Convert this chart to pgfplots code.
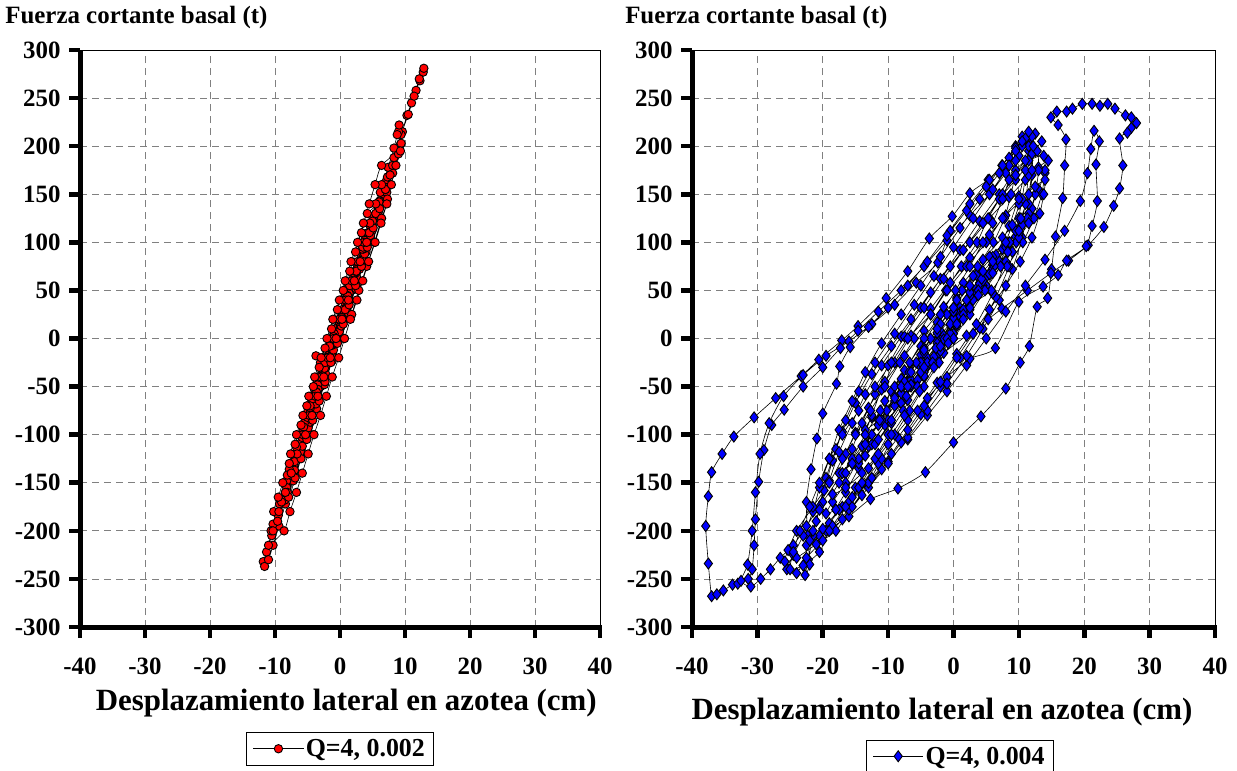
\documentclass[border=0pt]{standalone}
\usepackage{fontspec}
\setmainfont{Liberation Serif}
\usepackage{pgfplots}
\pgfplotsset{compat=1.18}
\definecolor{gridgray}{RGB}{128,128,128}
\pgfplotsset{
  myaxis/.style={
    scale only axis, height=577bp,
    xmin=-40,xmax=40,ymin=-300,ymax=300,
    xtick={-40,-30,...,40}, ytick={-300,-250,...,300},
    grid=major,
    major grid style={gridgray, line width=0.8bp, dash pattern=on 7bp off 5bp},
    axis line style={black, line width=0.8bp},
    tick align=outside, tick pos=left,
    major tick length=9bp,
    every tick/.append style={black, line width=1bp},
    /pgf/number format/assume math mode=true,
    ticklabel style={font=\bfseries\fontsize{25}{25}\selectfont},
    xticklabel style={yshift=-18bp},
    yticklabel style={xshift=-7bp},
    clip=false,
    xlabel style={font=\bfseries\fontsize{31}{31}\selectfont, anchor=center},
    legend style={draw=black, line width=0.8bp, font=\bfseries\fontsize{26}{26}\selectfont, inner xsep=7bp, inner ysep=5bp, legend cell align=left},
    legend image code/.code={\draw[mark repeat=2,mark phase=2] plot coordinates {(0bp,0bp)(25bp,0bp)(50bp,0bp)};},
  }
}
\newcommand{\excelaxes}{%
\begin{scope}[x=1bp,y=1bp]
\fill[black] (77.5,-629.5) rectangle (82.5,-50);
\fill[black] (77.5,-629.5) rectangle (602,-624.5);
\fill[black] (689.5,-629.5) rectangle (694.5,-50);
\fill[black] (689.5,-629.5) rectangle (1217,-624.5);
\foreach \i in {0,...,8}{
  \fill[black] ({80+65*\i-2.3},-627) rectangle ++(4.6,-11);
  \fill[black] ({692+65.375*\i-2.3},-627) rectangle ++(4.6,-11);
}
\foreach \j in {0,...,12}{
  \fill[black] (80,{-627+48.0833*\j-2.3}) rectangle ++(-11,4.6);
  \fill[black] (692,{-627+48.0833*\j-2.3}) rectangle ++(-11,4.6);
}
\end{scope}}
\begin{document}
\begin{tikzpicture}
\useasboundingbox (0,0) rectangle (1237bp,-771bp);
\excelaxes
% ---------------- left panel ----------------
\begin{axis}[myaxis, name=L, width=520bp, at={(80bp,-627bp)}, anchor=south west,
  xlabel={Desplazamiento lateral en azotea (cm)},
  xlabel style={at={(axis description cs:0.512,-0.132)}},
  legend style={at={(0.5,-0.211)}, anchor=center}]
\addplot[black, line width=0.6bp, smooth, tension=0.4, mark=*, mark size=4.2bp,
  mark options={fill=red, draw=black, line width=0.9bp}] coordinates {
(-0.6,0)(-0.1,8)(0.4,18)(0.9,30)
(0.3,22)(-0.5,8)(-1.2,-5)(-2.3,-20)
(-1.6,-12)(-0.6,5)(0.4,22)(1.3,40)(2.4,60)
(1.6,50)(0.6,30)(-0.5,8)(-1.6,-14)(-2.6,-30)(-3.5,-45)
(-2.6,-35)(-1.6,-15)(-0.4,8)(0.8,30)(1.9,52)(3.0,72)(4.0,90)
(3.0,78)(1.9,55)(0.7,30)(-0.5,5)(-1.6,-18)(-2.8,-40)(-3.9,-60)(-4.9,-75)
(-4.1,-65)(-3.1,-45)(-2.0,-22)(-0.8,2)(0.4,28)(1.6,52)(2.8,78)(3.9,100)(5.2,125)
(4.3,110)(3.2,88)(2.0,62)(0.8,37)(-0.4,12)(-1.6,-13)(-2.8,-38)(-4.0,-63)(-5.2,-88)(-6.2,-110)
(-5.3,-98)(-4.2,-75)(-3.0,-50)(-1.8,-25)(-0.6,0)(0.6,25)(1.8,50)(3.0,75)(4.2,100)(5.4,125)(6.8,150)
(5.9,138)(4.8,115)(3.6,90)(2.4,65)(1.2,40)(0.0,15)(-1.2,-10)(-2.4,-35)(-3.6,-60)(-4.8,-85)(-6.0,-110)(-7.1,-132)(-8.1,-150)
(-7.2,-140)(-6.0,-115)(-4.8,-90)(-3.6,-65)(-2.4,-40)(-1.2,-15)(0.0,10)(1.2,35)(2.4,60)(3.6,85)(4.8,110)(6.0,135)(7.1,158)(8.2,180)(9.3,202)(9.6,215)(10.3,232)(11.0,245)(11.7,258)(12.3,268)(12.8,277)(12.9,281)
(12.2,270)(11.4,252)(10.5,233)(9.4,212)(8.3,188)(7.2,165)(6.0,140)(4.8,115)(3.6,90)(2.4,65)(1.2,40)(0.0,15)(-1.2,-10)(-2.4,-35)(-3.6,-60)(-4.8,-85)(-6.0,-110)(-7.2,-135)(-8.4,-160)(-9.5,-184)(-10.5,-205)(-11.3,-222)(-11.8,-232)(-11.6,-237)
(-11.0,-230)(-10.3,-215)(-9.4,-195)(-8.4,-172)(-7.2,-148)(-6.0,-123)(-4.8,-98)(-3.6,-73)(-2.4,-48)(-1.2,-23)(0.0,2)(1.2,27)(2.4,52)(3.6,77)(4.8,102)(6.0,127)(7.2,152)(8.1,172)(9.0,192)(9.4,203)(9.0,215)(9.1,222)
(8.8,212)(8.3,198)(7.4,178)(6.2,152)(5.0,127)(3.8,102)(2.6,77)(1.4,52)(0.2,27)(-1.0,2)(-2.2,-23)(-3.4,-48)(-4.6,-73)(-5.8,-98)(-7.0,-123)(-8.2,-148)(-9.3,-172)(-10.3,-193)(-10.6,-200)
(-9.6,-190)(-8.5,-168)(-7.3,-143)(-6.1,-118)(-4.9,-93)(-3.7,-68)(-2.5,-43)(-1.3,-18)(-0.1,7)(1.1,32)(2.3,57)(3.5,82)(4.7,107)(5.9,132)(7.1,157)(8.1,180)
(7.3,168)(6.1,143)(4.9,118)(3.7,93)(2.5,68)(1.3,43)(0.1,18)(-1.1,-7)(-2.3,-32)(-3.5,-57)(-4.7,-82)(-5.9,-107)(-7.1,-132)(-8.2,-155)(-9.0,-170)
(-8.1,-160)(-7.0,-137)(-5.8,-112)(-4.6,-87)(-3.4,-62)(-2.2,-37)(-1.0,-12)(0.2,13)(1.4,38)(2.6,63)(3.8,88)(5.0,113)(6.2,138)(7.0,155)
(6.0,142)(4.8,118)(3.6,93)(2.4,68)(1.2,43)(0.0,18)(-1.2,-7)(-2.3,-27)(-3.7,-18)(-3.0,-25)(-3.2,-40)(-4.3,-63)(-5.5,-88)(-6.7,-113)(-7.8,-136)(-8.1,-142)
(-7.0,-128)(-5.8,-103)(-4.6,-78)(-3.4,-53)(-2.2,-28)(-1.0,-3)(0.2,22)(1.4,47)(2.6,72)(3.8,97)(5.0,122)(5.5,130)
(4.6,118)(3.4,93)(2.2,68)(1.0,43)(-0.2,18)(-1.4,-7)(-2.6,-32)(-3.8,-57)(-5.0,-82)(-5.6,-92)
(-4.6,-78)(-3.4,-53)(-2.2,-28)(-1.0,-3)(0.2,22)(1.4,47)(2.6,72)(3.8,97)(4.5,110)
(3.5,95)(2.3,70)(1.1,45)(-0.1,20)(-1.3,-5)(-2.5,-30)(-3.7,-55)(-4.6,-70)
(-3.6,-56)(-2.4,-31)(-1.2,-6)(0.0,19)(1.2,44)(2.5,70)
(1.5,55)(0.3,30)(-0.9,5)(-2.1,-20)(-3.3,-40)
(-2.3,-25)(-1.1,0)(0.1,20)(0.8,30)
(0.0,20)(-1.0,2)(-1.6,-8)
(0.6,0)(1.8,25)(2.9,50)(4.1,75)(5.3,100)(6.4,125)(7.3,145)
(4.2,130)(3.3,110)(2.4,90)(1.5,70)(0.5,50)(-0.4,30)(-1.3,10)(-2.3,-10)(-3.2,-30)(-4.1,-50)(-5.1,-70)(-6.0,-90)(-6.9,-110)(-7.8,-130)(-8.8,-150)(-9.5,-165)(-10.2,-180)
(-7.9,-165)(-6.9,-145)(-6.0,-125)(-5.1,-105)(-4.2,-85)(-3.2,-65)(-2.3,-45)(-1.4,-25)(-0.4,-5)(0.5,15)(1.4,35)(2.4,55)(3.3,75)(4.2,95)(5.1,115)(6.1,135)(7.0,155)(7.7,170)
(6.4,160)(5.5,140)(4.6,120)(3.7,100)(2.7,80)(1.8,60)(0.9,40)(-0.1,20)(-1.0,0)(-1.9,-20)(-2.9,-40)(-3.8,-60)(-4.7,-80)(-5.7,-100)(-6.6,-120)(-7.5,-140)(-8.4,-160)(-9.4,-180)(-10.3,-200)(-11.0,-215)
(-8.6,-200)(-7.7,-180)(-6.7,-160)(-5.8,-140)(-4.9,-120)(-4.0,-100)(-3.0,-80)(-2.1,-60)(-1.2,-40)(-0.2,-20)(0.7,0)(1.6,20)(2.6,40)(3.5,60)(4.4,80)(5.4,100)(6.3,120)(7.2,140)(7.9,160)(8.6,180)(9.3,195)
(6.4,180)(5.4,160)(4.5,140)(3.6,120)(2.7,100)(1.7,80)(0.8,60)(-0.1,40)(-1.1,20)(-2.0,0)(-2.9,-20)(-3.9,-40)(-4.8,-60)(-5.7,-80)(-6.7,-100)(-7.6,-120)
(-5.3,-100)(-4.3,-80)(-3.4,-60)(-2.5,-40)(-1.5,-20)(-0.6,0)(0.3,20)(1.3,40)(2.2,60)(3.1,80)(4.1,100)
};
\addlegendentry{Q=4, 0.002}
\node[anchor=west, inner sep=0pt, font=\bfseries\fontsize{25}{25}\selectfont] at (rel axis cs:-0.144,1.057) {Fuerza cortante basal (t)};
\end{axis}
% ---------------- right panel ----------------
\begin{axis}[myaxis, name=R, width=523bp, at={(692bp,-627bp)}, anchor=south west,
  xlabel={Desplazamiento lateral en azotea (cm)},
  xlabel style={at={(axis description cs:0.478,-0.147)}},
  legend style={at={(0.512,-0.224)}, anchor=center}]
\addplot[black, line width=0.6bp, smooth, tension=0.4, mark=diamond*, mark size=5.5bp,
  mark options={fill=blue, draw=black, line width=0.9bp}] coordinates {
(0,0)(1.5,25)(3.5,50)(4.8,62)
(3.0,45)(0.5,20)(-1.8,-5)(-4.0,-28)(-6.5,-50)
(-4.5,-40)(-2.5,-20)(0.0,5)(2.5,30)(5.0,55)(7.5,78)(9.0,90)
(7.0,80)(4.0,58)(1.0,32)(-2.0,8)(-5.0,-17)(-8.0,-42)(-10.5,-65)(-12.5,-82)(-13.5,-95)
(-11.5,-85)(-9.0,-65)(-6.5,-43)(-4.0,-20)(-1.5,3)(1.0,27)(3.5,52)(6.0,77)(8.5,100)(10.5,118)(12.0,135)
(10.0,125)(7.5,105)(4.5,82)(1.5,58)(-1.5,33)(-4.5,8)(-7.5,-18)(-10.5,-45)(-13.0,-72)(-15.0,-98)(-16.5,-120)(-17.5,-140)
(-15.5,-130)(-13.0,-112)(-10.5,-90)(-8.0,-67)(-5.5,-43)(-3.0,-19)(-0.5,5)(2.0,30)(4.5,55)(7.0,80)(9.5,106)(11.5,130)(13.0,155)(14.0,172)(14.5,185)
(13.0,178)(11.0,165)(8.5,147)(5.5,125)(2.5,100)(-0.5,75)(-3.5,48)(-6.5,20)(-9.5,-8)(-12.5,-37)(-15.0,-67)(-17.0,-97)(-18.5,-127)(-19.8,-158)(-21.0,-190)(-22.5,-215)
(-19.5,-200)(-16.0,-185)(-12.7,-167)(-8.5,-156)(-4.3,-139)(0.0,-108)(4.2,-81)(8.0,-52)(10.2,-25)(11.6,-8)(12.8,33)(14.4,42)(15.0,72)(15.6,106)(16.7,146)(17.0,180)(17.2,207)(16.0,222)(14.9,230)(15.8,236)(17.3,236)(18.2,239)(19.7,244)(21.2,244)(22.4,242)(23.6,244)(24.7,239)(26.3,232)(27.2,230)(28.0,224)(27.2,219)(26.6,214)(25.4,208)(25.9,180)(25.4,156)(24.5,138)(23.0,116)(20.6,97)(17.6,81)(14.9,68)(11.3,50)(7.4,31)(5.3,20)(2.0,3)(-1.5,-15)(-4.5,-35)(-7.5,-60)(-10.0,-85)(-12.5,-110)(-14.5,-135)(-16.5,-160)(-18.0,-178)
(-16.0,-170)(-13.0,-150)(-10.0,-128)(-7.0,-105)(-4.0,-80)(-1.0,-55)(2.0,-28)(5.0,0)(8.0,28)(11.0,55)(14.0,82)(17.0,112)(19.4,143)(20.5,172)(21.0,197)(21.5,216)(22.3,205)(21.8,181)(22.0,143)(21.2,117)(20.3,96)(17.3,81)(16.0,66)(13.7,54)(10.0,38)(6.4,-10)(2.5,-21)(-1.0,-40)(-4.0,-62)(-7.0,-85)(-10.0,-110)(-13.0,-135)(-15.0,-155)(-17.0,-175)(-19.0,-192)(-20.5,-205)
(-18.5,-195)(-16.0,-178)(-13.0,-155)(-10.0,-130)(-7.0,-103)(-4.0,-75)(-1.0,-47)(2.0,-18)(4.5,10)(7.0,40)(9.0,72)(10.5,105)(11.5,140)(12.0,170)(11.5,195)(10.5,210)
(9.5,200)(7.4,180)(5.3,165)(2.5,151)(-0.2,127)(-3.7,104)(-7.0,70)(-10.3,42)(-14.6,13)(-17.1,-2)(-20.6,-22)(-23.3,-39)(-27.2,-62)(-30.5,-82)(-33.6,-102)(-35.4,-120)(-37.0,-139)(-37.5,-164)(-37.9,-195)(-37.5,-234)(-37.0,-268)(-36.2,-266)(-35.2,-262)(-33.8,-256)(-33.0,-255)(-31.4,-250)(-30.8,-240)(-30.5,-215)(-30.3,-188)(-29.8,-149)(-29.0,-116)(-27.8,-90)(-25.9,-74)(-23.0,-50)(-20.0,-30)(-17.3,-10)(-14.6,8)(-11.5,28)(-8.0,50)(-4.5,75)(-1.0,102)(2.5,128)(5.5,150)(8.0,172)(10.0,190)(11.5,205)(12.5,213)
(11.0,205)(8.5,188)(5.5,165)(2.5,140)(-0.5,112)(-2.4,79)(-5.7,58)(-9.0,35)(-12.5,15)(-16.0,-3)(-19.5,-18)(-23.0,-38)(-26.0,-60)(-28.2,-88)(-29.6,-120)(-30.3,-160)(-30.8,-200)(-31.5,-235)(-32.5,-252)(-31.0,-258)(-29.5,-250)(-28.0,-240)(-26.5,-228)
(-24.5,-215)(-22.5,-195)(-20.0,-170)(-17.0,-140)(-14.0,-112)(-11.0,-85)(-8.0,-57)(-5.0,-30)(-2.0,-2)(1.0,27)(4.0,57)(6.5,87)(8.5,117)(10.0,148)(11.0,175)(11.5,200)(12.0,210)
(10.5,200)(8.5,180)(6.0,155)(3.0,125)(0.0,95)(-3.0,65)(-6.0,35)(-9.0,5)(-12.0,-25)(-14.5,-55)(-16.5,-85)(-18.0,-115)(-19.5,-145)(-20.5,-175)(-21.5,-205)(-22.2,-230)(-22.7,-246)
(-22.0,-235)(-22.3,-205)(-22.5,-170)(-21.8,-136)(-20.9,-104)(-20.0,-78)(-17.9,-47)(-17.4,-29)(-15.8,-9)(-13.0,12)(-10.0,32)(-7.0,55)(-4.0,80)(-1.0,107)(2.0,133)(5.0,158)(7.5,180)(9.5,198)(11.0,208)
(9.5,195)(7.0,172)(4.0,145)(1.0,115)(-2.0,85)(-5.0,55)(-8.0,25)(-11.0,-5)(-13.5,-35)(-15.5,-65)(-17.5,-95)(-19.0,-125)(-20.5,-155)(-21.5,-180)(-23.0,-205)(-24.5,-225)(-25.5,-240)(-24.0,-244)
(-22.5,-228)(-20.0,-210)(-17.0,-188)(-14.0,-163)(-11.0,-136)(-8.0,-108)(-5.0,-79)(-2.0,-50)(1.0,-20)(4.0,11)(6.5,43)(8.5,75)(10.0,108)(11.0,140)(11.5,170)(12.5,195)(13.5,205)
(12.0,192)(9.5,175)(7.0,150)(4.0,122)(1.0,92)(-2.0,62)(-5.0,32)(-8.0,2)(-11.0,-28)(-13.5,-58)(-15.5,-88)(-17.5,-118)(-19.0,-148)(-20.5,-178)(-21.5,-200)(-22.0,-210)
(-20.0,-198)(-17.5,-178)(-14.5,-155)(-11.5,-130)(-8.5,-103)(-5.5,-75)(-2.5,-46)(0.5,-16)(3.5,15)(6.0,47)(8.0,80)(9.5,112)(10.5,145)(11.0,175)
(9.5,165)(7.0,145)(4.5,120)(1.5,92)(-1.5,62)(-4.5,32)(-7.5,2)(-10.0,-28)(-12.0,-58)(-14.0,-88)(-15.5,-115)(-16.5,-140)
(-14.5,-130)(-12.0,-110)(-9.5,-88)(-7.0,-64)(-4.5,-39)(-2.0,-13)(0.5,13)(3.0,40)(5.5,67)(7.5,93)(9.0,118)(10.0,140)
(8.0,128)(5.5,108)(2.5,84)(-0.5,58)(-3.5,31)(-6.5,3)(-9.0,-25)(-11.0,-53)(-12.5,-80)(-13.5,-100)
(-11.5,-90)(-9.0,-70)(-6.5,-48)(-4.0,-25)(-1.5,-1)(1.0,23)(3.5,48)(6.0,73)(8.0,95)
(6.0,85)(3.5,66)(0.5,42)(-2.5,17)(-5.0,-8)(-7.5,-33)(-9.5,-55)
(-7.5,-45)(-5.0,-25)(-2.5,-2)(0.0,21)(2.5,44)(4.5,60)
(2.5,48)(0.0,28)(-2.5,6)(-4.5,-15)
(-2.5,-5)(-0.5,14)(1.5,30)
(5.8,50)(8.2,75)(10.6,100)(12.3,125)(13.5,150)(14.0,175)(13.8,190)
(11.5,185)(9.5,170)(7.5,150)(5.3,125)(3.6,100)(1.2,75)(-1.2,50)(-3.5,25)(-6.0,0)(-8.2,-25)(-10.5,-50)(-12.7,-75)(-15.0,-100)(-17.0,-125)(-19.0,-150)(-21.5,-175)(-24.0,-200)(-25.3,-220)(-25.8,-232)
(-24.0,-228)(-21.0,-214)(-18.0,-200)(-15.5,-175)(-13.0,-150)(-11.0,-125)(-9.0,-100)(-6.7,-75)(-4.5,-50)(-2.2,-25)(0.0,0)(2.5,25)(4.8,50)(7.2,75)(9.6,100)(11.3,125)(12.5,150)(13.0,175)(12.8,195)
(11.0,185)(9.5,170)(8.8,150)(7.8,125)(6.1,100)(3.7,75)(1.3,50)(-1.0,25)(-3.5,0)(-5.7,-25)(-8.0,-50)(-10.2,-75)(-12.5,-100)(-14.5,-125)(-16.5,-150)(-18.5,-170)(-19.5,-182)
(-18.0,-178)(-15.5,-165)(-12.5,-145)(-9.5,-120)(-7.0,-95)(-4.5,-70)(-2.0,-45)(0.5,-20)(3.0,5)(5.5,30)(8.0,55)(10.2,80)(12.0,105)(13.2,130)(13.8,150)(14.0,165)
(12.5,158)(10.0,145)(7.5,125)(5.0,100)(2.0,75)(-1.0,50)(-3.5,25)(-7.0,0)(-9.5,-25)(-12.0,-50)(-14.5,-75)(-17.0,-100)(-19.0,-125)(-20.5,-150)(-22.0,-175)(-23.5,-200)(-24.5,-222)(-25.0,-240)
(-23.0,-236)(-20.5,-222)(-19.0,-200)(-16.5,-175)(-14.0,-150)(-12.0,-125)(-10.0,-100)(-7.7,-75)(-5.5,-50)(-3.2,-25)(-1.0,0)(1.5,25)(3.8,50)(6.2,75)(8.6,100)(10.3,125)(11.5,150)(12.0,175)(12.2,200)(11.5,215)
(10.5,205)(9.5,185)(8.5,165)(7.5,145)(6.0,120)(4.5,100)(2.5,75)(0.3,50)(-2.0,25)(-4.5,0)(-6.7,-25)(-9.0,-50)(-11.2,-75)(-13.5,-100)(-15.5,-125)(-17.5,-150)(-18.5,-162)
(-16.5,-155)(-14.0,-140)(-11.5,-120)(-9.5,-100)(-7.5,-80)(-5.2,-55)(-3.0,-30)(-0.8,-5)(1.5,20)(3.8,45)(6.0,68)(8.3,90)(10.0,105)(11.5,120)
(10.0,112)(8.0,100)(5.5,85)(3.0,65)(0.5,40)(-2.0,15)(-4.5,-10)(-6.8,-35)(-9.0,-60)(-11.3,-85)(-13.5,-110)(-15.5,-130)
(-13.5,-122)(-11.5,-105)(-9.5,-85)(-7.2,-60)(-5.0,-35)(-2.7,-10)(-0.5,15)(2.0,40)(4.3,62)(6.0,80)
(4.5,70)(2.5,55)(0.0,32)(-2.5,10)(-4.5,-12)(-6.5,-35)(-8.0,-50)(-9.0,-62)
(-7.0,-50)(-4.5,-30)(-2.0,-8)(0.5,15)(2.5,32)
};
\addlegendentry{Q=4, 0.004}
\node[anchor=west, inner sep=0pt, font=\bfseries\fontsize{25}{25}\selectfont] at (rel axis cs:-0.128,1.057) {Fuerza cortante basal (t)};
\end{axis}
\excelaxes
\end{tikzpicture}
\end{document}
